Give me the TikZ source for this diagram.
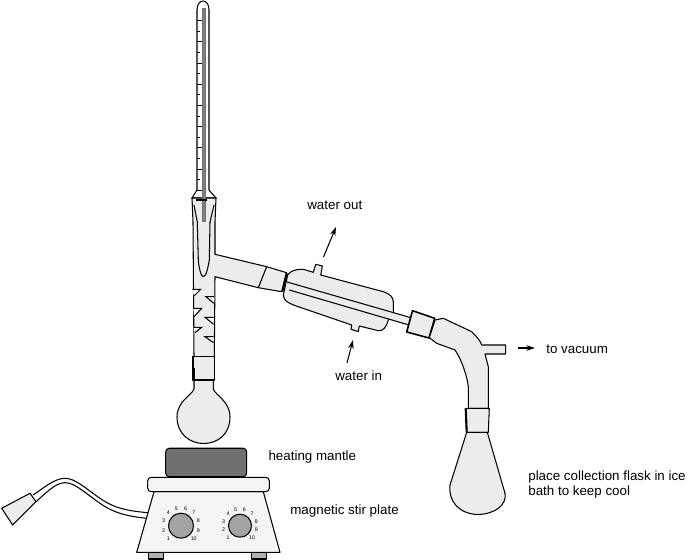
\documentclass[tikz,border=0pt]{standalone}
\usepackage{fontspec}
\setmainfont{Liberation Sans}
\usetikzlibrary{arrows.meta, positioning}

\begin{document}
\begin{tikzpicture}[
  x=0.02cm, y=-0.02cm,
  glass/.style={draw=black, line width=0.6pt, fill=glassgray, line join=round},
  wall/.style={draw=black, line width=0.6pt},
  thickwall/.style={draw=black, line width=1.2pt},
  spike/.style={draw=black, line width=0.6pt, fill=white!70!glassgray},
  mantlebox/.style={rectangle, rounded corners=2pt, draw=black, line width=0.6pt, fill=mantlegray,
                    minimum width=1.62cm, minimum height=0.57cm, inner sep=0pt},
  knob/.style={circle, draw=black, line width=0.6pt, fill=knobgray, inner sep=0pt},
  lbl/.style={font=\fontsize{7.6}{8.5}\selectfont, anchor=west, inner sep=0pt, align=left},
  dial/.style={font=\fontsize{3}{3}\selectfont, inner sep=0pt},
  arr/.style={-{Stealth[length=5pt, width=3.2pt]}, line width=0.6pt},
]
\definecolor{glassgray}{HTML}{ECECEC}
\definecolor{mantlegray}{HTML}{707070}
\definecolor{knobgray}{HTML}{A4A4A4}
\definecolor{stemgray}{HTML}{808080}
\definecolor{footgray}{HTML}{B0B0B0}
\useasboundingbox (0,0) rectangle (696,560);

%% Thermometer
\draw[wall, fill=white] (197,190) -- (197,10) .. controls (197,4) and (200,1) .. (203,1)
  .. controls (206,1) and (209,4) .. (209,10) -- (209,190) -- (216,198) -- (192,198) -- cycle;
\foreach \t [count=\i] in {20.7,31.3,...,191}
  \draw[wall] (197,\t) -- ({mod(\i,2)==0 ? 200 : 201.5},\t);

%% Column with side arm, Vigreux spikes, lower joint
\path[glass] (192,198) -- (216,198) -- (215,222) -- (215,254.3) -- (266.7,266.7) -- (286.7,272.7)
  -- (281.7,291.7) -- (258.3,287.7) -- (215,276.7) -- (214.3,356.7) -- (194,356.7) -- (193,222) -- cycle;
\draw[wall] (266.7,266.7) -- (258.3,287.7);
\draw[wall] (197.3,222) -- (198.3,260) .. controls (199,268) and (201,276.7) .. (203.3,276.7)
  .. controls (206,276.7) and (208,268) .. (209.3,260) -- (210,222);
\draw[wall] (194,205) -- (197.3,222) (214,205) -- (210,222);
\path[draw=black!55, line width=0.4pt, fill=stemgray] (202,8) rectangle (205.5,221);
\draw[thickwall] (196,200) -- (207,200);
\draw[spike] (192.3,289.3) -- (200.7,289.3) -- (194,296);
\draw[spike] (193.3,308.3) -- (201.7,308.3) -- (194,316.7);
\draw[spike] (193.3,327.3) -- (201.7,327.3) -- (195,332.7);
\draw[spike] (214.3,296.7) -- (206,296.7) -- (213.8,303.3);
\draw[spike] (213.6,317.3) -- (205,317.3) -- (213.6,324.3);
\draw[spike] (213.6,336.7) -- (205,336.7) -- (213.6,342.7);

%% Distilling flask
\path[glass] (194,380) -- (194,389) .. controls (192,395) and (177,401) .. (177,417)
  .. controls (177,434) and (190,443.5) .. (203.5,443.5)
  .. controls (218,443.5) and (230,434) .. (230,417)
  .. controls (230,401) and (215,395) .. (213.3,389) -- (213.3,380) -- cycle;
\path[glass] (192.7,356.7) rectangle (214.3,380);
\draw[thickwall] (192.7,356.7) -- (192.7,368) (194,368) -- (194,380);

%% Condenser
\path[glass] (287.7,275) .. controls (290,271) and (296,269) .. (303.3,269.3) -- (313.3,272.3) -- (315.7,264.3)
  -- (322.3,266) -- (320.7,275) -- (383.3,291.7) .. controls (390,294) and (393.3,297) .. (393.3,302)
  -- (393.3,313.3) -- (388.3,320) .. controls (386,328) and (383,331) .. (378.3,330.7)
  -- (359.3,326) -- (358.3,331.7) -- (351,329.3) -- (351.7,325) -- (300,307.3)
  .. controls (290,304) and (283,301) .. (283.3,295) -- cycle;
\draw[thickwall] (286.7,273.3) -- (282.3,291.7);
\path[draw=black, line width=0.6pt, fill=glassgray] (286,281.7) -- (412,318) -- (409,325) -- (289.3,290);
\draw[glass, line width=0.9pt] (412.5,310.7) -- (434.7,318.3) -- (429,338) -- (406.7,332) -- cycle;

%% Receiving adapter
\path[glass] (435,320) -- (443.3,318.3) -- (471.7,331.7) .. controls (476,336) and (480,340) .. (481.7,345)
  -- (505.7,345) -- (505.7,354) -- (485,354) -- (488.3,366.7) -- (488.3,408.3) -- (468.3,408.3)
  -- (468.3,386.7) .. controls (467.5,378) and (462,360) .. (455,350) -- (436.7,343.3) -- (429.3,337.7) -- cycle;
\path[glass] (465.7,408.3) -- (489.3,408.3) -- (488.3,432.3) -- (466.7,432.3) -- cycle;
\draw[thickwall] (465.7,408.3) -- (466.7,432.3);

%% Receiving flask
\path[glass] (466.7,432.3) -- (450,485) .. controls (448,500) and (458,514) .. (478,514.5)
  .. controls (495,514) and (507,505) .. (505,493.3) -- (487.3,432.3) -- cycle;

%% Cord and plug
\draw[wall] (33,495) .. controls (45,487) and (55,478.3) .. (65,478.3)
  .. controls (75,478.3) and (85,488) .. (100,498.3) .. controls (115,509) and (130,511) .. (148,512.7);
\draw[wall] (36,501.7) .. controls (45,494) and (55,482.7) .. (65,482.7)
  .. controls (75,482.7) and (85,493) .. (100,503.3) .. controls (115,514) and (130,516.5) .. (146.7,518.3);
\draw[glass] (1.7,508.3) -- (30,493.3) -- (36,501.7) -- (12.7,525) -- cycle;

%% Stir plate
\draw[glass, fill=footgray] (148.7,552.3) rectangle (163.3,559);
\draw[glass, fill=footgray] (251.7,552.3) rectangle (266.7,559);
\draw[glass, fill=glassgray!60] (154,491.7) -- (263.3,491.7) -- (280,552.3) -- (136.7,552.3) -- cycle;
\draw[glass, fill=glassgray!60, rounded corners=2pt] (147.7,477.3) rectangle (269.3,491.7);
\node[mantlebox] (mantle) at (206.2,462.5) {};
\node[knob, minimum size=0.5cm] (knobl) at (181,525.7) {};
\node[knob, minimum size=0.46cm] (knobr) at (240,525.7) {};
\foreach \n in {1,...,10} {
  \node[dial] (diall\n) at ([shift={({135+(\n-1)*30}:18)}]knobl.center) {\n};
  \node[dial] (dialr\n) at ([shift={({135+(\n-1)*30}:17)}]knobr.center) {\n};
}

%% Labels
\node[lbl] (waterout) at (307,205) {water out};
\node[lbl] (waterin) at (335,376) {water in};
\node[lbl] (vacuum) at (546,349.5) {to vacuum};
\node[lbl, right=0.42cm of mantle, yshift=0.1cm] (heating) {heating mantle};
\node[lbl] (stirplate) at (290,511.5) {magnetic stir plate};
\node[lbl] (collect) at (528,485) {place collection flask in ice\\bath to keep cool};

%% Arrows
\coordinate (outtail) at (323.5,257);
\coordinate (outhead) at (336,227);
\coordinate (intail) at (347,363);
\coordinate (inhead) at (353,340);
\coordinate (vactail) at (518,348);
\coordinate (vachead) at (535,348);
\draw[arr] (outtail) -- (outhead);
\draw[arr] (intail) -- (inhead);
\draw[arr] (vactail) -- (vachead);

\end{tikzpicture}
\end{document}
